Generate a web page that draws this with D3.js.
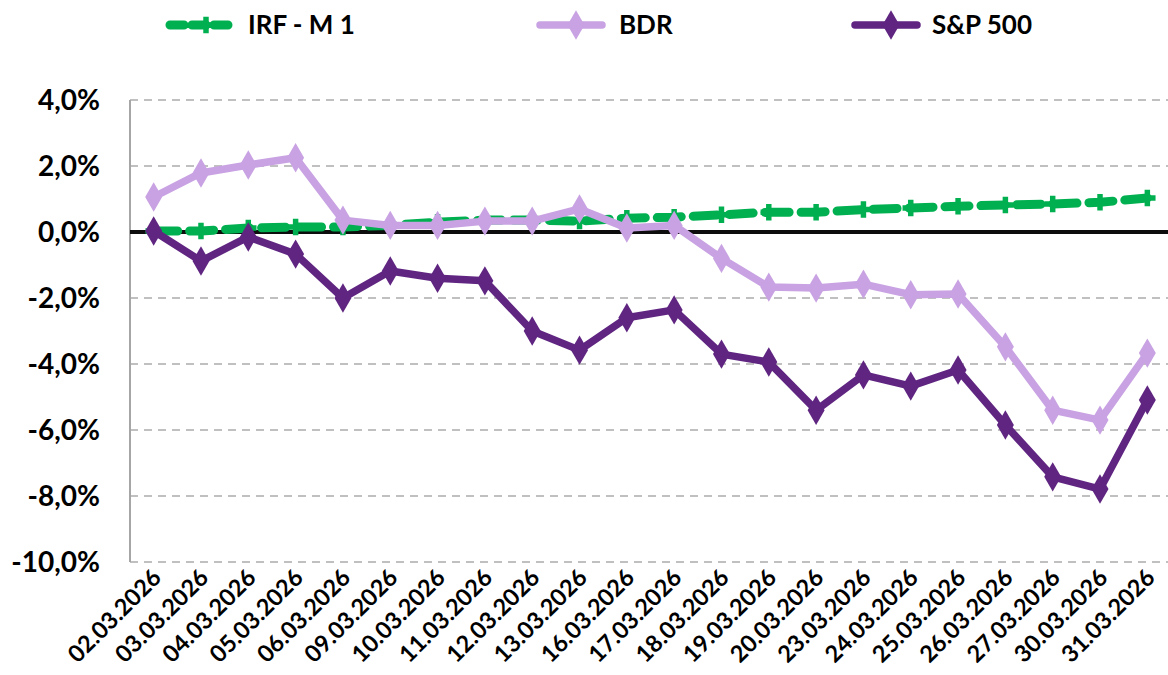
<!DOCTYPE html>
<html>
<head>
<meta charset="utf-8" />
<title>IRF - M 1 / BDR / S&P 500</title>
<script src="https://cdn.jsdelivr.net/npm/d3@7"></script>
<style>
body{margin:0;background:#fff;}
text{font-family:Lato,"Open Sans",sans-serif;font-weight:bold;fill:#000;}
</style>
</head>
<body>
<svg id="chart" width="1168" height="675"></svg>
<script>
// dados do gráfico (variação acumulada em %)
var dates = ["02.03.2026","03.03.2026","04.03.2026","05.03.2026","06.03.2026","09.03.2026","10.03.2026","11.03.2026","12.03.2026","13.03.2026","16.03.2026","17.03.2026","18.03.2026","19.03.2026","20.03.2026","23.03.2026","24.03.2026","25.03.2026","26.03.2026","27.03.2026","30.03.2026","31.03.2026"];
var irf = [0.03,0.03,0.12,0.15,0.15,0.2,0.3,0.36,0.36,0.33,0.42,0.45,0.52,0.6,0.6,0.68,0.73,0.78,0.82,0.85,0.9,1.03];
var bdr = [1.06,1.79,2.03,2.25,0.36,0.2,0.2,0.33,0.33,0.7,0.12,0.2,-0.8,-1.67,-1.7,-1.58,-1.9,-1.88,-3.48,-5.4,-5.7,-3.67];
var spx = [0.03,-0.88,-0.15,-0.67,-2.0,-1.18,-1.4,-1.48,-3.0,-3.58,-2.6,-2.36,-3.7,-3.94,-5.4,-4.33,-4.67,-4.18,-5.85,-7.42,-7.79,-5.09];
var yTicks = [4,2,0,-2,-4,-6,-8,-10];

var series = [
	{name:"IRF - M 1",values:irf,color:"#00B050",width:9,dash:"24,12",marker:"cross",lx:170,tx:248},
	{name:"BDR",values:bdr,color:"#C8A2E2",width:7.5,dash:null,marker:"diamond",lx:540,tx:619},
	{name:"S&P 500",values:spx,color:"#5F2581",width:7.5,dash:null,marker:"diamond",lx:855,tx:932}
];

var svg = d3.select("#chart");
var pL = 130, pR = 1171, pT = 100, pB = 562;

var x = d3.scaleBand().domain(dates).range([pL,pR]);
var y = d3.scaleLinear().domain([-10,4]).range([pB,pT]);
var cx = function(d){ return x(d)+x.bandwidth()/2; };
var fmt = function(v){ return v.toFixed(1).replace(".",",")+"%"; };

// grade
svg.append("g").selectAll("line").data(yTicks.filter(function(t){return t!==0;})).enter().append("line")
	.attr("x1",pL).attr("x2",1168).attr("y1",function(d){return y(d);}).attr("y2",function(d){return y(d);})
	.style("stroke","#C0C0C0").style("stroke-width",2).style("stroke-dasharray","8,6");

// eixo y
svg.append("line").attr("x1",pL).attr("x2",pL).attr("y1",pT).attr("y2",pB)
	.style("stroke","#A6A6A6").style("stroke-width",2);
svg.append("g").selectAll("text").data(yTicks).enter().append("text")
	.attr("x",100).attr("y",function(d){return y(d);}).attr("dy","0.36em")
	.attr("text-anchor","end").style("font-size","28px").text(fmt);

// linha do zero
svg.append("line").attr("x1",pL).attr("x2",1168).attr("y1",y(0)).attr("y2",y(0))
	.style("stroke","#0D0D0D").style("stroke-width",4);

// rótulos do eixo x
svg.append("g").selectAll("text").data(dates).enter().append("text")
	.attr("transform",function(d){return "translate("+(cx(d)+9)+",579) rotate(-45)";})
	.attr("text-anchor","end").style("font-size","23.5px").text(function(d){return d;});

var line = d3.line().x(function(d,i){return cx(dates[i]);}).y(function(d){return y(d);});
var sym = {
	cross:d3.symbol().type(d3.symbolCross).size(150),
	diamond:d3.symbol().type(d3.symbolDiamond).size(250)
};

series.forEach(function(s){
	var g = svg.append("g");
	g.append("path").attr("d",line(s.values))
		.style("fill","none").style("stroke",s.color).style("stroke-width",s.width)
		.style("stroke-linejoin","round").style("stroke-linecap","round")
		.style("stroke-dasharray",s.dash);
	g.selectAll("path.m").data(s.values).enter().append("path").attr("class","m")
		.attr("transform",function(d,i){return "translate("+cx(dates[i])+","+y(d)+")";})
		.attr("d",sym[s.marker]()).style("fill",s.color);
	// legenda
	var lg = svg.append("g");
	lg.append("line").attr("x1",s.lx).attr("x2",s.lx+62).attr("y1",25).attr("y2",25)
		.style("stroke",s.color).style("stroke-width",s.width).style("stroke-linecap","round")
		.style("stroke-dasharray",s.dash ? "14,8" : null);
	lg.append("path").attr("transform","translate("+(s.lx+36)+",25)").attr("d",sym[s.marker]()).style("fill",s.color);
	lg.append("text").attr("x",s.tx).attr("y",25).attr("dy","0.36em").style("font-size","26px").text(s.name);
});
</script>
</body>
</html>
